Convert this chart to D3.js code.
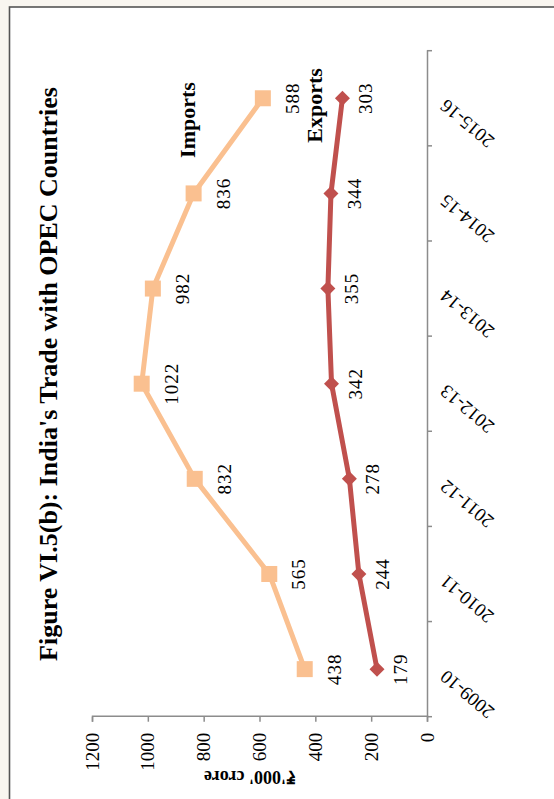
<!DOCTYPE html>
<html>
<head>
<meta charset="utf-8">
<script src="https://cdn.jsdelivr.net/npm/d3@7"></script>
<style>
  html, body { margin: 0; padding: 0; background: #f9f6f0; }
  svg { display: block; }
  text { font-family: "Liberation Serif", "Times New Roman", serif; fill: #000; }
</style>
</head>
<body>
<svg id="chart" width="554" height="799"></svg>
<script>
// ---- data ----
const categories = ["2009-10", "2010-11", "2011-12", "2012-13", "2013-14", "2014-15", "2015-16"];
const imports = [438, 565, 832, 1022, 982, 836, 588];
const exports_ = [179, 244, 278, 342, 355, 344, 303];
const valueTicks = [0, 200, 400, 600, 800, 1000, 1200];
const titleText = "Figure VI.5(b): India's Trade with OPEC Countries";
const axisTitle = "₹'000' crore";

const W = 554, H = 799;
const svg = d3.select("#chart");

// page background + frame (screen coords)
svg.append("rect").attr("x", 0).attr("y", 0).attr("width", W).attr("height", H).attr("fill", "#f9f6f0");
svg.append("rect").attr("x", 9.5).attr("y", 7).attr("width", 700).attr("height", 900)
  .attr("fill", "#ffffff").attr("stroke", "#555").attr("stroke-width", 1.6);

// The whole chart is drawn unrotated in an 799x554 frame and turned 90° counter-clockwise.
const g = svg.append("g").attr("transform", `translate(0,${H}) rotate(-90)`);

const x = d3.scaleBand().domain(categories).range([82.3, 748.3]).padding(0);
const y = d3.scaleLinear().domain([0, 1200]).range([427, 92]);
const cx = c => x(c) + x.bandwidth() / 2;

const axisColor = "#8c8c8c";

// value axis
const yAxis = g.append("g").attr("transform", `translate(${x.range()[0]},0)`)
  .call(d3.axisLeft(y).tickValues(valueTicks).tickSize(5).tickPadding(11).tickFormat(d3.format("d")));
yAxis.select(".domain").attr("stroke", axisColor).attr("stroke-width", 1.5);
yAxis.selectAll(".tick line").attr("stroke", axisColor).attr("stroke-width", 1.5);
yAxis.selectAll(".tick text").style("font-family", "Liberation Serif, serif").style("font-size", "19px").attr("fill", "#000");

// category axis
const xAxis = g.append("g").attr("transform", `translate(0,${y(0)})`)
  .call(d3.axisBottom(x).tickSize(0).tickFormat(""));
xAxis.select(".domain").attr("stroke", axisColor).attr("stroke-width", 1.5);
const edges = categories.map(c => x(c)).concat([x(categories[categories.length - 1]) + x.bandwidth()]);
xAxis.selectAll("line.edge").data(edges).enter().append("line").attr("class", "edge")
  .attr("x1", d => d).attr("x2", d => d).attr("y1", 0).attr("y2", 5)
  .attr("stroke", axisColor).attr("stroke-width", 1.5);
g.selectAll("text.cat").data(categories).enter().append("text").attr("class", "cat")
  .attr("transform", d => `translate(${cx(d)},${y(0) + 20}) rotate(-50)`)
  .attr("text-anchor", "end")
  .style("font-size", "19px")
  .text(d => d);

// axis title
g.append("text")
  .attr("transform", `translate(28,250) rotate(-90)`)
  .attr("text-anchor", "middle")
  .style("font-size", "18px").style("font-weight", "bold")
  .text(axisTitle);

// title
g.append("text").attr("x", 425).attr("y", 57).attr("text-anchor", "middle")
  .style("font-size", "26px").style("font-weight", "bold").text(titleText);

// lines
const line = d3.line().x((d, i) => cx(categories[i])).y(d => y(d));
const impColor = "#fac090", expColor = "#c0504d";

g.append("path").datum(imports).attr("d", line).attr("fill", "none")
  .attr("stroke", impColor).attr("stroke-width", 5).attr("stroke-linejoin", "round");
g.append("path").datum(exports_).attr("d", line).attr("fill", "none")
  .attr("stroke", expColor).attr("stroke-width", 5).attr("stroke-linejoin", "round");

// markers
const sq = 16;
g.selectAll("rect.imp").data(imports).enter().append("rect").attr("class", "imp")
  .attr("x", (d, i) => cx(categories[i]) - sq / 2).attr("y", d => y(d) - sq / 2)
  .attr("width", sq).attr("height", sq).attr("fill", impColor);
const dm = 7.5;
g.selectAll("path.exp").data(exports_).enter().append("path").attr("class", "exp")
  .attr("d", (d, i) => { const px = cx(categories[i]), py = y(d);
    return `M${px},${py - dm}L${px + dm},${py}L${px},${py + dm}L${px - dm},${py}Z`; })
  .attr("fill", expColor);

// data labels
g.selectAll("text.impl").data(imports).enter().append("text").attr("class", "impl")
  .attr("x", (d, i) => cx(categories[i])).attr("y", d => y(d) + 36)
  .attr("text-anchor", "middle").style("font-size", "19px").style("letter-spacing", "1px").text(d => d);
g.selectAll("text.expl").data(exports_).enter().append("text").attr("class", "expl")
  .attr("x", (d, i) => cx(categories[i])).attr("y", d => y(d) + 30)
  .attr("text-anchor", "middle").style("font-size", "19px").style("letter-spacing", "1px").text(d => d);

// series labels
g.append("text").attr("x", 679).attr("y", 195).attr("text-anchor", "middle")
  .style("font-size", "22px").style("font-weight", "bold").text("Imports");
g.append("text").attr("x", 693.5).attr("y", 322).attr("text-anchor", "middle")
  .style("font-size", "22px").style("font-weight", "bold").text("Exports");
</script>
</body>
</html>
